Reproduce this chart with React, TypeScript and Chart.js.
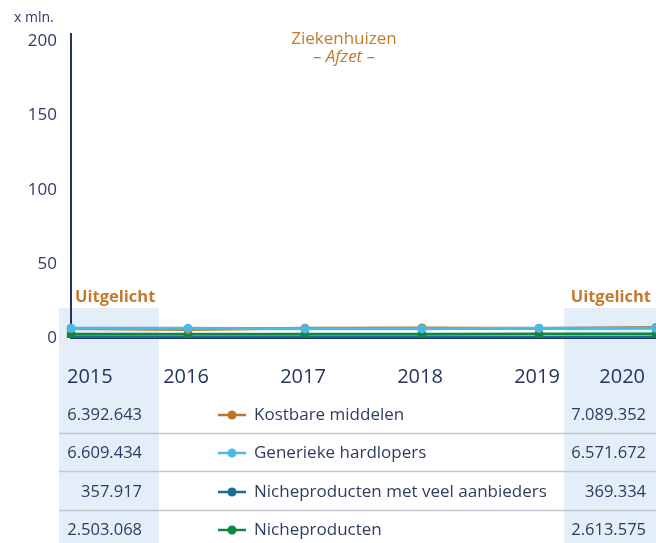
import React, { useEffect, useRef } from 'react';
import { Chart, registerables } from 'chart.js';

Chart.register(...registerables);

const FONT = '"Open Sans", "Noto Sans", sans-serif';
const NAVY = '#233463';
const TEXT = '#2e3c60';
const ORANGE = '#c37a2e';
const HILITE = '#e4eef9';
const SEP = '#c3c7ce';

const years = ['2015', '2016', '2017', '2018', '2019', '2020'];
const seriesNames = [
  'Kostbare middelen',
  'Generieke hardlopers',
  'Nicheproducten met veel aanbieders',
  'Nicheproducten',
];
const seriesColors = ['#c1732a', '#4cb8e6', '#17708f', '#0b8a3f'];
const seriesOrder = [1, 0, 3, 2];

const kostbare = [6392643, 5650000, 6600000, 6750000, 6450000, 7089352];
const generieke = [6609434, 6500000, 6250000, 6300000, 6650000, 6571672];
const nicheVeel = [357917, 360000, 370000, 372000, 371000, 369334];
const niche = [2503068, 2550000, 2450000, 2500000, 2700000, 2613575];

const seriesValues = [kostbare, generieke, nicheVeel, niche];

const yTicks = [0, 50, 100, 150, 200];
const yMax = 205;

const fmt = (n: number) => String(Math.round(n)).replace(/\B(?=(\d{3})+(?!\d))/g, '.');

const overlayPlugin = {
  id: 'overlay',
  beforeDraw(chart: any) {
    const { ctx } = chart;
    ctx.save();
    ctx.fillStyle = '#ffffff';
    ctx.fillRect(0, 0, chart.width, chart.height);
    ctx.fillStyle = HILITE;
    ctx.fillRect(59, 308, 100, chart.height - 308);
    ctx.fillRect(564, 308, chart.width - 564, chart.height - 308);
    ctx.restore();
  },
  afterDraw(chart: any) {
    const { ctx } = chart;
    const xs = chart.scales.x;
    ctx.save();
    ctx.textBaseline = 'middle';

    // unit label
    ctx.fillStyle = TEXT;
    ctx.font = `14px ${FONT}`;
    ctx.textAlign = 'left';
    ctx.fillText('x mln.', 14, 18);

    // title
    ctx.fillStyle = ORANGE;
    ctx.textAlign = 'center';
    ctx.font = `17px ${FONT}`;
    ctx.fillText('Ziekenhuizen', 344, 39);
    ctx.font = `italic 17px ${FONT}`;
    ctx.fillText('– Afzet –', 344, 57);

    // highlights
    ctx.font = `bold 16.5px ${FONT}`;
    ctx.textAlign = 'left';
    ctx.fillText('Uitgelicht', 75, 297);
    ctx.textAlign = 'right';
    ctx.fillText('Uitgelicht', 651, 297);

    // x labels
    ctx.fillStyle = NAVY;
    ctx.font = `20px ${FONT}`;
    years.forEach((y, i) => {
      if (i === 0) {
        ctx.textAlign = 'left';
        ctx.fillText(y, 67, 377);
      } else if (i === years.length - 1) {
        ctx.textAlign = 'right';
        ctx.fillText(y, 645, 377);
      } else {
        ctx.textAlign = 'center';
        ctx.fillText(y, xs.getPixelForValue(i) - 2, 377);
      }
    });

    // table
    const rowY = [415, 453, 492, 530];
    ctx.strokeStyle = SEP;
    ctx.lineWidth = 1.5;
    [433.5, 471.5, 510.5].forEach((y) => {
      ctx.beginPath();
      ctx.moveTo(59, y);
      ctx.lineTo(chart.width, y);
      ctx.stroke();
    });
    seriesNames.forEach((name, i) => {
      const vals = seriesValues[i];
      const y = rowY[i];
      ctx.fillStyle = TEXT;
      ctx.font = `16.5px ${FONT}`;
      ctx.textAlign = 'right';
      ctx.fillText(fmt(vals[0]), 142, y);
      ctx.fillText(fmt(vals[vals.length - 1]), 646, y);
      ctx.textAlign = 'left';
      ctx.font = `17px ${FONT}`;
      ctx.fillText(name, 254, y);
      ctx.strokeStyle = seriesColors[i];
      ctx.lineWidth = 2.5;
      ctx.beginPath();
      ctx.moveTo(218, y);
      ctx.lineTo(246, y);
      ctx.stroke();
      ctx.fillStyle = seriesColors[i];
      ctx.beginPath();
      ctx.arc(232, y, 4.5, 0, Math.PI * 2);
      ctx.fill();
    });
    ctx.restore();
  },
};

export default function App() {
  const ref = useRef<HTMLCanvasElement | null>(null);
  useEffect(() => {
    if (!ref.current) return;
    const chart = new Chart(ref.current, {
      type: 'line',
      data: {
        labels: years,
        datasets: seriesNames.map((name, i) => ({
          label: name,
          data: seriesValues[i].map((v) => v / 1e6),
          order: seriesOrder[i],
          borderColor: seriesColors[i],
          backgroundColor: seriesColors[i],
          pointBackgroundColor: seriesColors[i],
          pointBorderWidth: 0,
          pointRadius: 4.5,
          borderWidth: 3,
          tension: 0,
          fill: false,
        })),
      },
      options: {
        animation: false,
        responsive: false,
        devicePixelRatio: 1,
        layout: { autoPadding: false, padding: { top: 34, right: 0, bottom: 205, left: 0 } },
        plugins: {
          legend: { display: false },
          title: { display: false },
          tooltip: { enabled: false },
        },
        scales: {
          x: {
            type: 'category',
            offset: false,
            grid: { display: false, drawTicks: false },
            border: { color: NAVY, width: 2 },
            ticks: { display: false },
          },
          y: {
            min: 0,
            max: yMax,
            afterBuildTicks: (s: any) => {
              s.ticks = yTicks.map((v) => ({ value: v }));
            },
            afterFit: (s: any) => {
              s.width = 71;
            },
            grid: { display: false, drawTicks: false },
            border: { color: NAVY, width: 2 },
            ticks: {
              color: TEXT,
              font: { family: FONT, size: 17 },
              padding: 14,
            },
          },
        },
      },
      plugins: [overlayPlugin],
    });
    return () => chart.destroy();
  }, []);
  return (
    <div style={{ position: 'absolute', left: 0, top: 0, width: 656, height: 543, background: '#fff' }}>
      <canvas ref={ref} width={656} height={543} style={{ display: 'block', width: 656, height: 543 }} />
    </div>
  );
}
